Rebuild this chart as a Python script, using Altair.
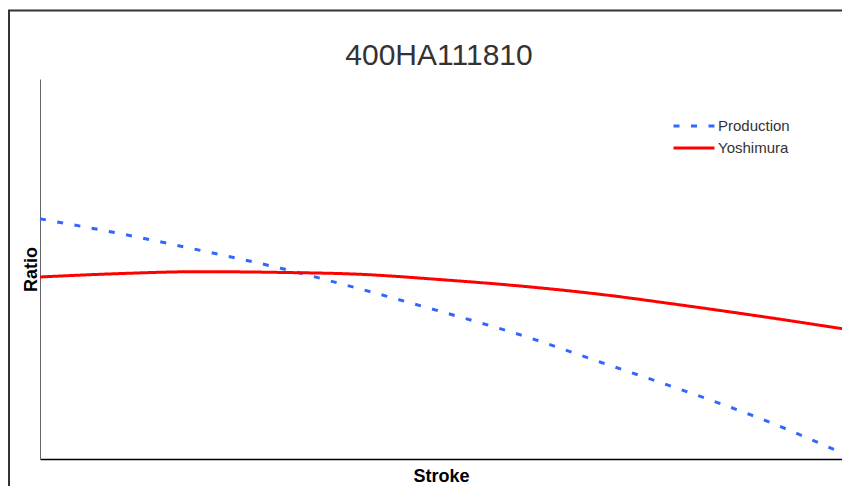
import altair as alt
import pandas as pd

stroke = [0, 4, 8, 12, 16, 20, 24, 28, 32, 36, 40]
production = [0.632, 0.593, 0.549, 0.502, 0.447, 0.388, 0.326, 0.254, 0.182, 0.105, 0.016]
yoshimura = [0.479, 0.488, 0.493, 0.491, 0.486, 0.472, 0.455, 0.433, 0.405, 0.375, 0.343]
series = ["Production", "Yoshimura"]
colors = ["#3366FF", "#FF0000"]
dashes = [[6, 11.5], [1, 0]]
title_text = "400HA111810"

rows = []
for s, p, y in zip(stroke, production, yoshimura):
    rows.append({"Stroke": s, "Ratio": p, "Series": "Production"})
    rows.append({"Stroke": s, "Ratio": y, "Series": "Yoshimura"})
df = pd.DataFrame(rows)

FONT = "Liberation Sans"

legend_kw = dict(title=None, orient="none", legendX=632, legendY=39,
                 symbolType="stroke", symbolSize=1681, symbolStrokeWidth=3,
                 labelFont=FONT, labelFontSize=15, labelColor="#333333",
                 labelOffset=2, rowPadding=6, clipHeight=16)

lines = alt.Chart(df).mark_line(strokeWidth=3, interpolate="monotone").encode(
    x=alt.X("Stroke:Q", scale=alt.Scale(domain=[0, 40], nice=False, zero=False),
            axis=alt.Axis(title="Stroke", labels=False, ticks=False, grid=False,
                          domainColor="#000000", domainWidth=1.5,
                          titleFont=FONT, titleFontSize=18, titleFontWeight="bold",
                          titleColor="#000000", titlePadding=8)),
    y=alt.Y("Ratio:Q", scale=alt.Scale(domain=[0, 1], nice=False, zero=False),
            axis=alt.Axis(title="Ratio", labels=False, ticks=False, grid=False,
                          domainColor="#666666", domainWidth=1,
                          titleFont=FONT, titleFontSize=18, titleFontWeight="bold",
                          titleColor="#000000", titlePadding=0)),
    color=alt.Color("Series:N", scale=alt.Scale(domain=series, range=colors),
                    legend=alt.Legend(**legend_kw)),
    strokeDash=alt.StrokeDash("Series:N", scale=alt.Scale(domain=series, range=dashes),
                              legend=alt.Legend(**legend_kw)),
)

frame = alt.Chart(pd.DataFrame({"f": [0]})).mark_rect(
    fillOpacity=0, stroke="#333333", strokeWidth=2
).encode(
    x=alt.value(-31), x2=alt.value(900), y=alt.value(-68.5), y2=alt.value(600)
)

title = alt.Chart(pd.DataFrame({"t": [title_text]})).mark_text(
    font=FONT, fontSize=30, color="#333333", align="center", baseline="alphabetic"
).encode(
    text="t:N", x=alt.value(399), y=alt.value(-14)
)

chart = alt.layer(frame, title, lines).properties(
    width=802, height=380,
    autosize=alt.AutoSizeParams(type="none"),
    padding={"left": 32, "top": 71, "right": 0, "bottom": 27},
).configure(background="white").configure_view(stroke=None)

chart.save("out.html", embed_options={"renderer": "svg", "actions": False})
